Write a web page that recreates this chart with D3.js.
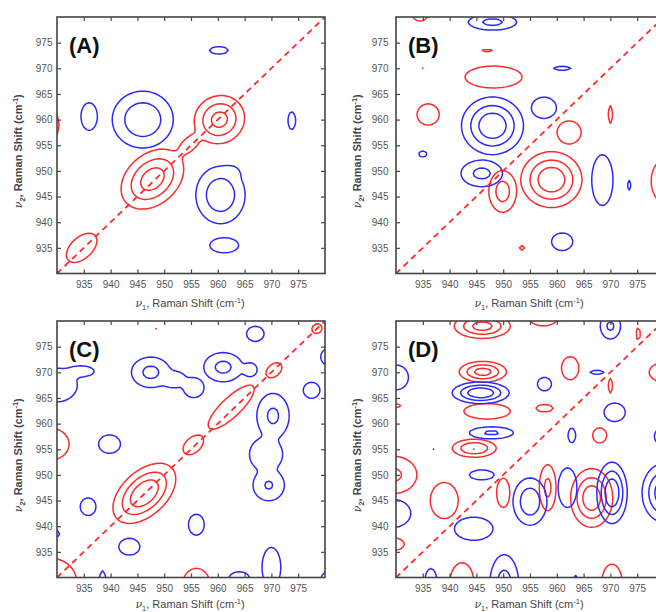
<!DOCTYPE html>
<html><head><meta charset="utf-8">
<script src="https://cdn.jsdelivr.net/npm/d3@7"></script>
<style>body{margin:0;background:#fff}svg{display:block}</style>
</head><body>
<svg id="chart" width="656" height="612"></svg>
<script>
// ---- data ----
const axisDomain = [930, 980];
const xTicks = [935, 940, 945, 950, 955, 960, 965, 970, 975];
const yTicks = [935, 940, 945, 950, 955, 960, 965, 970, 975];
const contourLevels = [1, 2, 3, 4];
const diagonal = [[930, 930], [980, 980]];
const panelLabels = ["(A)", "(B)", "(C)", "(D)"];
// peaks: [nu1 centre, nu2 centre, width1, width2, amplitude (+ red / - blue), tilt deg]
const peaksA = [
  [947.8, 948.4, 4.2, 3.0, 3.6, 45],
  [960.3, 960.0, 3.1, 2.9, 3.4, 45],
  [954.7, 955.2, 3.2, 1.5, 1.4, 45],
  [934.6, 935.0, 3.6, 2.1, 1.6, 45],
  [946.0, 960.0, 3.9, 3.8, -2.9, 0],
  [960.5, 945.3, 3.2, 3.9, -2.8, 0],
  [962.5, 949.5, 1.8, 1.6, -1.4, 0],
  [936.0, 960.6, 1.7, 3.0, -1.5, 0],
  [960.2, 973.5, 2.4, 1.0, -1.3, 0],
  [973.8, 959.8, 1.0, 2.4, -1.3, 0],
  [961.2, 935.5, 3.3, 1.8, -1.4, 0],
  [929.0, 959.0, 1.5, 3.0, 1.5, 0],
  [929.2, 947.0, 1.0, 1.0, -1.3, 0],
  [959.5, 928.5, 3.0, 1.5, 1.5, 0],
  [947.0, 929.2, 1.0, 1.0, -1.3, 0],
  [929.5, 929.5, 1.2, 1.2, 1.5, 0]
];
const peaksB = [
  [948.0, 958.8, 3.5, 3.4, -3.9, 0],
  [946.0, 949.5, 3.0, 2.0, -2.3, 0],
  [949.9, 946.0, 1.9, 3.0, 2.5, 0],
  [959.0, 948.3, 3.45, 3.3, 3.9, 0],
  [948.2, 968.3, 5.5, 2.2, 1.6, 0],
  [947.0, 973.4, 2.3, 0.7, 1.1, 0],
  [948.0, 979.0, 3.5, 1.2, -2.3, 0],
  [934.5, 981.0, 1.8, 2.0, 1.5, 0],
  [935.0, 970.0, 0.3, 0.3, 1.05, 0],
  [961.0, 970.0, 2.2, 0.6, -1.3, 0],
  [936.0, 961.0, 2.3, 2.3, 1.5, 0],
  [935.0, 953.3, 1.3, 1.0, -1.2, 0],
  [957.6, 962.3, 2.6, 2.3, -1.5, 0],
  [962.3, 957.5, 2.5, 2.5, 1.5, 0],
  [970.0, 961.0, 0.6, 2.4, 1.3, 0],
  [968.5, 948.2, 2.2, 5.5, -1.5, 0],
  [973.5, 947.2, 0.5, 1.3, -1.3, 0],
  [981.0, 948.0, 2.5, 3.5, 2.5, 0],
  [980.5, 934.5, 2.0, 1.5, -1.5, 0],
  [953.5, 935.0, 0.8, 0.8, 1.2, 0],
  [961.0, 936.2, 2.2, 1.9, -1.5, 0]
];
const peaksC = [
  [946.3, 946.4, 4.3, 2.55, 3.95, 45],
  [955.4, 955.8, 2.5, 1.6, 1.5, 45],
  [962.5, 963.2, 6.0, 1.9, 1.6, 45],
  [970.5, 970.4, 2.4, 1.6, 1.3, 45],
  [978.5, 978.5, 1.7, 1.5, 1.2, 45],
  [948.5, 978.5, 0.4, 0.4, 1.05, 0],
  [978.6, 948.3, 0.4, 0.4, 1.05, 0],
  [929.0, 956.0, 3.0, 2.8, 1.8, 0],
  [929.0, 929.0, 4.0, 4.0, 2.0, 0],
  [956.0, 928.0, 2.5, 3.5, 1.8, 0],
  [947.5, 970.0, 2.8, 2.3, -2.3, 0],
  [951.8, 968.6, 2.5, 1.8, -1.5, 0],
  [961.0, 971.0, 2.8, 2.2, -2.3, 0],
  [955.5, 967.0, 2.0, 2.0, -1.6, 0],
  [966.0, 970.5, 1.5, 1.5, -1.5, 0],
  [970.3, 961.5, 2.4, 3.5, -2.2, 0],
  [969.0, 954.0, 3.0, 3.2, -1.7, 0],
  [969.5, 948.0, 2.4, 2.5, -2.1, 0],
  [967.0, 977.5, 2.0, 1.8, -1.4, 0],
  [981.0, 973.0, 2.0, 2.0, -1.5, 0],
  [977.5, 966.5, 1.9, 1.9, -1.4, 0],
  [929.0, 981.0, 1.5, 1.5, -1.5, 0],
  [930.0, 967.5, 3.5, 3.0, -1.8, 0],
  [934.5, 970.2, 3.0, 1.3, -1.4, 0],
  [939.8, 956.0, 2.5, 2.2, -1.4, 0],
  [935.8, 943.8, 1.8, 2.1, -1.4, 0],
  [956.0, 940.3, 1.8, 2.5, -1.4, 0],
  [943.5, 936.0, 2.4, 2.0, -1.4, 0],
  [929.5, 938.5, 1.2, 0.9, -1.4, 0],
  [938.5, 929.5, 0.8, 2.5, -1.3, 0],
  [970.0, 932.0, 1.8, 4.0, -1.6, 0],
  [964.0, 929.5, 2.5, 2.0, -1.4, 0],
  [981.0, 929.5, 2.0, 2.0, -1.5, 0]
];
const peaksD = [
  [946.1, 979.0, 3.3, 1.5, 3.5, 0],
  [946.2, 970.1, 2.8, 1.27, 3.5, 0],
  [945.8, 966.0, 3.2, 1.26, -4.0, 0],
  [947.0, 962.4, 4.5, 1.55, 1.6, 0],
  [947.8, 958.2, 3.3, 0.92, -2.2, 0],
  [944.6, 955.2, 2.75, 1.17, 3.05, 0],
  [946.0, 950.0, 2.4, 1.0, -1.6, 0],
  [930.0, 969.0, 2.4, 2.5, -1.6, 0],
  [930.0, 963.5, 1.2, 0.6, 1.3, 0],
  [929.5, 950.0, 3.5, 2.9, 2.2, 0],
  [939.0, 945.0, 2.9, 3.9, 1.5, 0],
  [929.5, 942.5, 3.0, 2.5, -1.8, 0],
  [929.5, 936.5, 2.5, 1.5, 1.4, 0],
  [944.5, 939.5, 4.0, 2.5, -1.5, 0],
  [937.0, 955.0, 0.3, 0.3, -1.05, 0],
  [936.5, 929.5, 1.2, 2.5, -1.5, 0],
  [942.3, 929.0, 2.3, 4.0, 1.6, 0],
  [950.2, 928.5, 2.0, 4.4, -2.5, 0],
  [955.0, 936.6, 0.3, 0.3, 1.05, 0],
  [955.0, 944.8, 2.2, 3.2, -2.8, 0],
  [950.0, 946.5, 1.5, 3.5, 1.4, 0],
  [958.3, 947.5, 1.2, 3.5, 2.3, 0],
  [962.0, 947.5, 1.8, 4.0, -1.6, 0],
  [966.5, 945.5, 2.4, 3.5, 3.8, 0],
  [970.3, 946.5, 1.7, 3.6, -4.0, 0],
  [980.0, 946.5, 2.5, 3.5, -3.8, 0],
  [970.3, 929.0, 2.1, 4.0, 1.5, 0],
  [963.5, 929.5, 0.8, 1.5, -1.2, 0],
  [957.5, 981.0, 3.0, 2.0, 1.6, 0],
  [970.0, 979.0, 1.5, 2.0, -2.2, 0],
  [975.2, 977.5, 0.5, 1.8, 1.3, 0],
  [980.5, 975.0, 2.0, 0.8, -1.4, 0],
  [970.0, 973.3, 0.3, 0.3, 1.05, 0],
  [970.0, 967.4, 0.6, 2.0, 1.3, 0],
  [967.5, 970.0, 1.8, 0.6, -1.3, 0],
  [973.3, 970.0, 0.4, 0.4, -1.1, 0],
  [980.0, 970.0, 2.2, 1.5, 2.2, 0],
  [962.5, 970.8, 1.8, 2.5, 1.5, 0],
  [957.7, 967.7, 1.6, 1.6, -1.4, 0],
  [957.7, 963.0, 2.2, 1.0, 1.3, 0],
  [970.8, 962.2, 2.2, 2.0, -1.5, 0],
  [962.8, 957.7, 1.0, 2.0, -1.3, 0],
  [968.0, 957.7, 1.6, 1.8, 1.4, 0],
  [980.0, 957.5, 2.0, 2.0, -1.5, 0]
];

// ---- layout ----
const panels = [
  {label: panelLabels[0], peaks: peaksA, left: 57,  top: 17,  pad: 4.5, titleY: 306.5},
  {label: panelLabels[1], peaks: peaksB, left: 396, top: 17,  pad: 7.5, titleY: 306.5},
  {label: panelLabels[2], peaks: peaksC, left: 57,  top: 321, pad: 4.5, titleY: 607.5},
  {label: panelLabels[3], peaks: peaksD, left: 396, top: 321, pad: 7.5, titleY: 607.5}
];
const PW = 268, PH = 256.5;
const RED = "#ff2a2a", BLUE = "#2a2aff";
const FONT = "Liberation Sans, Arial, sans-serif";

const svg = d3.select("#chart");
const g0 = 924, g1 = 986, step = 0.5;
const n = Math.round((g1 - g0) / step) + 1;
const P_NORM = 4;

// separate fields for positive (red) and negative (blue) peaks, combined by a soft maximum
function field(peaks, sign) {
  const vals = new Float64Array(n * n);
  const pre = peaks.filter(p => Math.sign(p[4]) === sign).map(p => {
    const a = p[5] * Math.PI / 180;
    return {cx: p[0], cy: p[1], sx: p[2], sy: p[3], A: Math.abs(p[4]), c: Math.cos(a), s: Math.sin(a)};
  });
  for (let j = 0; j < n; j++) {
    const y = g0 + j * step;
    for (let i = 0; i < n; i++) {
      const x = g0 + i * step;
      let v = 0;
      for (const p of pre) {
        const dx = x - p.cx, dy = y - p.cy;
        const u = dx * p.c + dy * p.s, w = -dx * p.s + dy * p.c;
        const e = (u * u) / (p.sx * p.sx) + (w * w) / (p.sy * p.sy);
        if (e < 40) v += Math.pow(p.A * Math.exp(-0.5 * e), P_NORM);
      }
      vals[j * n + i] = Math.pow(v, 1 / P_NORM);
    }
  }
  return vals;
}

panels.forEach((P, k) => {
  const xs = d3.scaleLinear().domain(axisDomain).range([P.left, P.left + PW]);
  const ys = d3.scaleLinear().domain(axisDomain).range([P.top + PH, P.top]);
  const clipId = "clip" + k;
  svg.append("clipPath").attr("id", clipId).append("rect")
    .attr("x", P.left).attr("y", P.top).attr("width", PW).attr("height", PH);

  const proj = d3.geoTransform({
    point(px, py) { this.stream.point(xs(g0 + (px - 0.5) * step), ys(g0 + (py - 0.5) * step)); }
  });
  const path = d3.geoPath(proj);
  const cont = d3.contours().size([n, n]).thresholds(contourLevels);
  const gC = svg.append("g").attr("clip-path", `url(#${clipId})`);
  gC.selectAll("path.pos").data(cont(field(P.peaks, 1))).join("path")
    .attr("d", path).attr("fill", "none").attr("stroke", RED).attr("stroke-width", 1.5)
    .attr("stroke-linejoin", "round");
  gC.selectAll("path.neg").data(cont(field(P.peaks, -1))).join("path")
    .attr("d", path).attr("fill", "none").attr("stroke", BLUE).attr("stroke-width", 1.5)
    .attr("stroke-linejoin", "round");
  gC.append("path").datum(diagonal)
    .attr("d", d3.line().x(d => xs(d[0])).y(d => ys(d[1])))
    .attr("fill", "none").attr("stroke", RED).attr("stroke-width", 1.8)
    .attr("stroke-dasharray", "6,4.5");

  // axes (ticks inward on all sides)
  const style = sel => {
    sel.select(".domain").remove();
    sel.selectAll("line").attr("stroke", "#444").attr("stroke-width", 1.2);
    sel.selectAll("text").attr("fill", "#555").attr("font-size", 10).attr("font-family", FONT);
  };
  svg.append("g").attr("transform", `translate(0,${P.top + PH})`)
    .call(d3.axisBottom(xs).tickValues(xTicks).tickSize(-4).tickPadding(7.5).tickFormat(d3.format("d")))
    .call(style);
  svg.append("g").attr("transform", `translate(0,${P.top})`)
    .call(d3.axisTop(xs).tickValues(xTicks).tickSize(-4).tickFormat(""))
    .call(style);
  svg.append("g").attr("transform", `translate(${P.left},0)`)
    .call(d3.axisLeft(ys).tickValues(yTicks).tickSize(-4).tickPadding(P.pad).tickFormat(d3.format("d")))
    .call(style);
  svg.append("g").attr("transform", `translate(${P.left + PW},0)`)
    .call(d3.axisRight(ys).tickValues(yTicks).tickSize(-4).tickFormat(""))
    .call(style);

  svg.append("rect").attr("x", P.left).attr("y", P.top).attr("width", PW).attr("height", PH)
    .attr("fill", "none").attr("stroke", "#444").attr("stroke-width", 1.6);

  svg.append("text").attr("x", P.left + 12).attr("y", P.top + 36)
    .attr("font-family", FONT).attr("font-weight", "bold")
    .attr("font-size", 22).attr("fill", "#111").text(P.label);

  // x title
  const xt = svg.append("text").attr("x", P.left + PW / 2 - 1).attr("y", P.titleY)
    .attr("text-anchor", "middle").attr("font-family", FONT)
    .attr("font-size", 11).attr("fill", "#444");
  xt.append("tspan").attr("font-style", "italic").attr("font-family", "DejaVu Serif, serif").text("ν");
  xt.append("tspan").attr("font-size", 7.5).attr("dy", 3).text("1");
  xt.append("tspan").attr("dy", -3).text(", Raman Shift (cm");
  xt.append("tspan").attr("font-size", 7.5).attr("dy", -4).text("-1");
  xt.append("tspan").attr("dy", 4).text(")");

  // y title
  const cx = P.left - 35, cy = P.top + PH / 2 + 6;
  const yt = svg.append("text").attr("transform", `translate(${cx},${cy}) rotate(-90)`)
    .attr("text-anchor", "middle").attr("font-family", FONT)
    .attr("font-size", 11).attr("font-weight", "bold").attr("fill", "#444");
  yt.append("tspan").attr("font-style", "italic").attr("font-weight", "normal").attr("font-family", "DejaVu Serif, serif").text("ν");
  yt.append("tspan").attr("font-size", 7.5).attr("dy", 3).text("2");
  yt.append("tspan").attr("dy", -3).text(", Raman Shift (cm");
  yt.append("tspan").attr("font-size", 7.5).attr("dy", -4).text("-1");
  yt.append("tspan").attr("dy", 4).text(")");
});
</script>
</body></html>
